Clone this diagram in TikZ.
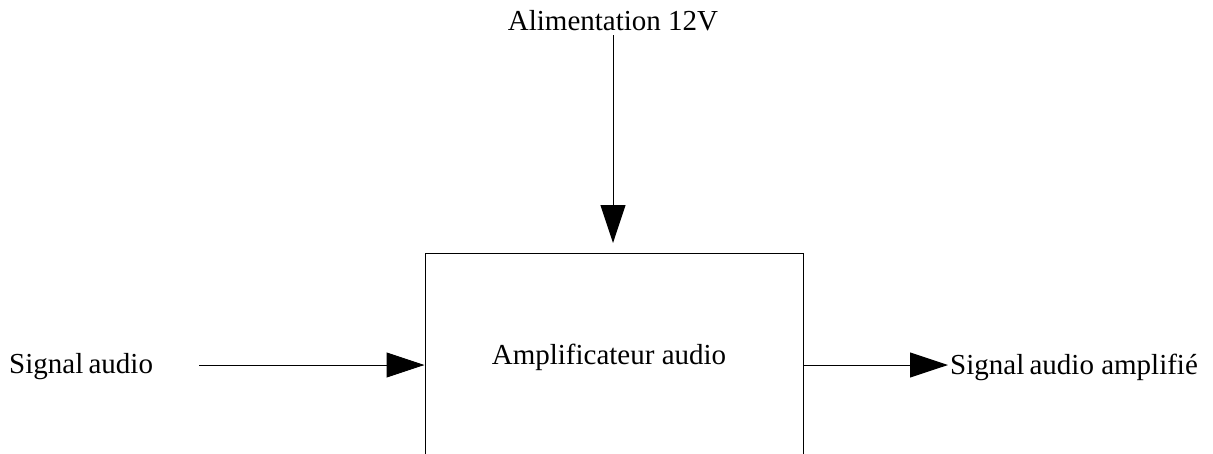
\documentclass[tikz,border=0pt]{standalone}
\usepackage{fontspec}
\setmainfont{Liberation Serif}
\usetikzlibrary{arrows.meta}
\begin{document}
\begin{tikzpicture}[x=1pt,y=-1pt,
  lbl/.style={inner sep=0pt,font=\fontsize{29}{33}\selectfont},
  conn/.style={line width=1pt,-{Triangle[length=38pt,width=25pt]}},
  blockbox/.style={draw,line width=1pt,minimum width=378pt,minimum height=300pt,inner sep=0pt}]
\useasboundingbox (0,0) rectangle (1213,453);
\clip (0,0) rectangle (1213,453);
\fill[white] (0,0) rectangle (1213,453);
\node[blockbox] (box) at (614,403) {};
\node[lbl] (amp) at (609,357) {Amplificateur audio};
\node[lbl,anchor=west] (sig) at (9,367) {Signal\hspace{-2pt} audio};
\node[lbl,anchor=west] (out) at (950,367) {Signal\hspace{-2pt} audio amplifié};
\node[lbl] (alim) at (613,21) {Alimentation 12V};
\coordinate (inStart) at (199,365);
\coordinate (topEnd) at (613,243);
\coordinate (outTip) at (948,365);
\draw[conn] (inStart) -- (box.west |- inStart);
\draw[conn] (alim.south -| topEnd) ++(0,4) -- (topEnd);
\draw[conn] (box.east |- outTip) -- (outTip);
\end{tikzpicture}
\end{document}
